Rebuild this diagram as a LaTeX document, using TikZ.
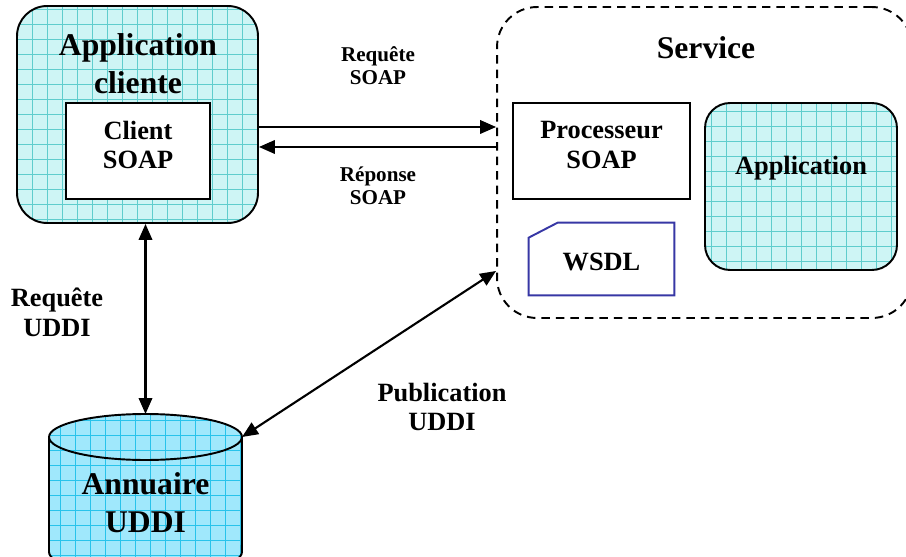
\documentclass[tikz,border=0pt]{standalone}
\usepackage{fontspec}
\setmainfont{Liberation Serif}
\usepackage{xcolor}
\usepackage{tikz}
\usetikzlibrary{arrows.meta, positioning, calc}
\definecolor{appfill}{RGB}{206,245,245}
\definecolor{appgrid}{RGB}{95,205,205}
\definecolor{dbfill}{RGB}{160,232,252}
\definecolor{dbgrid}{RGB}{40,195,235}
\definecolor{wsdlblue}{RGB}{55,55,165}
\tikzset{
  gridbox/.style={rectangle, draw=black, fill=appfill, line width=1.1pt,
    path picture={\draw[appgrid, line width=0.35pt]
      (path picture bounding box.south west) grid[step=0.3cm]
      (path picture bounding box.north east);}},
  whitebox/.style={rectangle, draw=black, fill=white, line width=1.1pt},
  title/.style={align=center, font=\bfseries\fontsize{18}{21.5}\selectfont},
  lbl/.style={align=center, font=\bfseries\fontsize{15}{17}\selectfont},
  smalllbl/.style={align=center, font=\bfseries\fontsize{12}{13}\selectfont},
  arrow/.style={-{Triangle[length=0.32cm, width=0.27cm]}, line width=1.2pt, color=black},
  dblarrow/.style={{Triangle[length=0.32cm, width=0.27cm]}-{Triangle[length=0.32cm, width=0.27cm]}, line width=1.2pt, color=black}
}

\begin{document}
\begin{tikzpicture}[x=0.02cm, y=-0.02cm]
  \useasboundingbox (0,0) rectangle (906,557);
  \clip (0,0) rectangle (906,557);

  % Client application (top left)
  \node[gridbox, rounded corners=0.6cm, minimum width=4.82cm, minimum height=4.34cm] (appcli) at (137.5,114.5) {};
  \node[title] (apptitle) at (138,64) {Application\\cliente};
  \node[whitebox, minimum width=2.88cm, minimum height=1.92cm,
    label={[lbl, yshift=0.12cm]center:Client\\SOAP}] (soapcli) at (138,151) {};

  % Service (top right)
  \node[draw, dashed, dash pattern=on 0.17cm off 0.12cm, line width=1.1pt, rounded corners=0.8cm,
    minimum width=8.3cm, minimum height=6.22cm] (service) at (704.5,162.5) {};
  \node[title] (srvtitle) at (706,48) {Service};
  \node[whitebox, minimum width=3.54cm, minimum height=1.92cm,
    label={[lbl, yshift=0.12cm]center:Processeur\\SOAP}] (proc) at (601.5,151) {};
  \node[gridbox, rounded corners=0.5cm, minimum width=3.84cm, minimum height=3.34cm,
    label={[lbl, yshift=0.36cm]center:Application}] (appsrv) at (801,186.5) {};

  % WSDL document with its cut corner
  \node[minimum width=2.9cm, minimum height=1.44cm,
    label={[lbl, yshift=-0.06cm]center:WSDL}] (wsdl) at (601.5,259) {};
  \draw[wsdlblue, line width=1.1pt] (wsdl.south west) -- ($(wsdl.north west)+(0,15)$)
    -- ($(wsdl.north west)+(29,0)$) -- (wsdl.north east) -- (wsdl.south east) -- cycle;

  % UDDI registry (cylinder)
  \begin{scope}
    \path[clip] (49,437) -- (49,552) arc[start angle=180, end angle=360, x radius=1.93cm, y radius=0.46cm]
      -- (242,437) arc[start angle=0, end angle=180, x radius=1.93cm, y radius=0.46cm] -- cycle;
    \fill[dbfill] (40,400) rectangle (250,580);
    \draw[dbgrid, line width=0.35pt] (30,390) grid[step=0.3cm] (260,590);
  \end{scope}
  \draw[line width=1.1pt] (49,437) -- (49,552) arc[start angle=180, end angle=360, x radius=1.93cm, y radius=0.46cm]
    -- (242,437) arc[start angle=0, end angle=180, x radius=1.93cm, y radius=0.46cm] -- cycle;
  \draw[line width=1.1pt] (49,437) arc[start angle=180, end angle=360, x radius=1.93cm, y radius=0.46cm];
  \node[title] (annuaire) at (145.5,503) {Annuaire\\UDDI};
  \coordinate (annutop) at (145.5,414);
  \coordinate (annuright) at (242,437);

  % SOAP exchanges
  \coordinate (reqa) at ([yshift=-0.25cm]appcli.east);
  \coordinate (repa) at ([yshift=-0.65cm]appcli.east);
  \draw[arrow] (reqa) -- (reqa -| service.west);
  \draw[arrow] (repa -| service.west) -- (repa);
  \node[smalllbl] (reqsoap) at (378,66) {Requête\\SOAP};
  \node[smalllbl] (repsoap) at (378,186) {Réponse\\SOAP};

  % UDDI lookup and publication
  \draw[dblarrow] (annutop |- appcli.south) -- (annutop);
  \draw[dblarrow] (annuright) -- ([yshift=-2.17cm]service.west);
  \node[lbl] (requddi) at (57,312) {Requête\\UDDI};
  \node[lbl] (pubuddi) at (442,407) {Publication\\UDDI};
\end{tikzpicture}
\end{document}
